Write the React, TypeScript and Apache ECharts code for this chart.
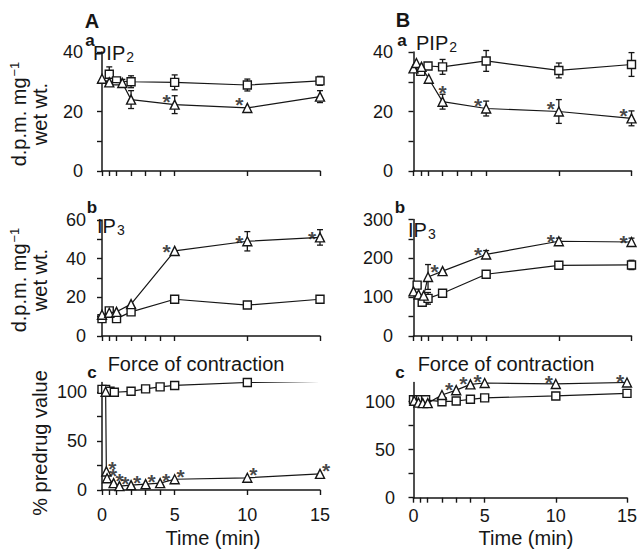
import React, { useEffect, useRef } from 'react';
import * as echarts from 'echarts';

const FONT = '"Liberation Sans", Arial, Helvetica, sans-serif';
const INK = '#161616';

// x axis (time, min)
const timeTicks = [0, 0.5, 1, 2, 3, 4, 5, 10, 15];
const timeLabels = [0, 5, 10, 15];

// ---- Panel A a : PIP2 ----
const aPip2Ctrl = [[0.5, 32.5], [1, 30.3], [2, 30], [5, 29.8], [10, 28.9], [15, 30.3]];
const aPip2CtrlErr = [2.5, 0, 2, 2.5, 2, 1.5];
const aPip2Drug = [[0, 31], [0.5, 29.8], [1.4, 29.6], [2, 24], [5, 22.3], [10, 21.2], [15, 25]];
const aPip2DrugErr = [0, 0, 1.2, 3, 3, 0, 2];
const aPip2Stars = [5, 10];
const aPip2YTicks = [0, 10, 20, 30, 40];
const aPip2YLabels = [0, 20, 40];

// ---- Panel A b : IP3 ----
const aIp3Ctrl = [[0, 9], [0.5, 13], [1, 9], [2, 12.5], [5, 19], [10, 16], [15, 19]];
const aIp3CtrlErr = [0, 0, 0, 0, 0, 0, 0];
const aIp3Drug = [[0, 11], [0.5, 12], [1, 12.5], [2, 16.5], [5, 44], [10, 49], [15, 51]];
const aIp3DrugErr = [0, 0, 0, 0, 0, 5, 4];
const aIp3Stars = [5, 10, 15];
const aIp3YTicks = [0, 10, 20, 30, 40, 50, 60];
const aIp3YLabels = [0, 20, 40, 60];

// ---- Panel A c : Force of contraction ----
const aForceCtrl = [[0, 103], [0.25, 103], [0.55, 101], [0.85, 100], [2, 101], [3, 103.5], [4, 105.5], [5, 107], [10, 110], [15, 111]];
const aForceDrug = [[0.25, 100.5], [0.3, 19], [0.35, 12], [0.8, 7], [1.2, 4], [2, 5], [3, 6], [4, 7], [5, 11], [10, 12.5], [15, 16.5]];
const aForceStars = [0.3, 0.35, 0.8, 1.2, 2, 3, 4, 5, 10, 15];
const forceYTicks = [0, 25, 50, 75, 100];
const forceYLabels = [0, 50, 100];

// ---- Panel B a : PIP2 ----
const bPip2Ctrl = [[0.5, 33.5], [1, 35.3], [2, 35], [5, 37], [10, 33.8], [15, 35.8]];
const bPip2CtrlErr = [0, 0, 2.5, 3.5, 2.5, 4];
const bPip2Drug = [[0, 34.5], [0.2, 36.3], [0.55, 35], [1.05, 31], [2, 23.3], [5, 21], [10, 20], [15, 17.7]];
const bPip2DrugErr = [0, 0, 0, 0, 2.5, 2.5, 4, 2.5];
const bPip2Stars = [2, 5, 10, 15];

// ---- Panel B b : IP3 ----
const bIp3Ctrl = [[0.25, 131], [0.6, 87], [1, 97], [2, 110], [5, 159], [10, 182], [15, 183]];
const bIp3CtrlErr = [0, 0, 15, 0, 0, 0, 12];
const bIp3Drug = [[0, 115], [0.35, 107], [0.7, 104], [1, 152], [2, 167], [5, 210], [10, 244], [15, 242]];
const bIp3DrugErr = [0, 0, 0, 32, 0, 10, 8, 10];
const bIp3Stars = [2, 5, 10, 15];
const bIp3YTicks = [0, 50, 100, 150, 200, 250, 300];
const bIp3YLabels = [0, 100, 200, 300];

// ---- Panel B c : Force of contraction ----
const bForceCtrl = [[0, 102], [0.25, 102], [0.5, 102], [0.85, 102], [2, 100], [3, 100.7], [4, 102.5], [5, 104], [10, 106], [15, 108.7]];
const bForceDrug = [[0.05, 101], [0.35, 99], [0.65, 98.5], [1, 98.5], [2, 107], [3, 112], [4, 118], [5, 119.5], [10, 118.5], [15, 120]];
const bForceStars = [3, 4, 5, 10, 15];

type Pt = number[];

interface Panel {
  left: number; top: number; width: number; height: number;
  yMax: number; yTicks: number[]; yLabels: number[];
  xLabels: boolean; xOffset: number; yOffset: number; labelMargin: number;
  ctrl: Pt[]; ctrlErr: number[]; drug: Pt[]; drugErr: number[];
  stars: number[]; starOffset: number[]; starOverrides?: Record<number, number[]>;
}

const panels: Panel[] = [
  { left: 102, top: 52, width: 218, height: 119, yMax: 40, yTicks: aPip2YTicks, yLabels: aPip2YLabels, xLabels: false, xOffset: 0, yOffset: 12, labelMargin: 7,
    ctrl: aPip2Ctrl, ctrlErr: aPip2CtrlErr, drug: aPip2Drug, drugErr: aPip2DrugErr, stars: aPip2Stars, starOffset: [-8, -3] },
  { left: 102, top: 220, width: 218, height: 116, yMax: 60, yTicks: aIp3YTicks, yLabels: aIp3YLabels, xLabels: false, xOffset: 0, yOffset: 9, labelMargin: 7,
    ctrl: aIp3Ctrl, ctrlErr: aIp3CtrlErr, drug: aIp3Drug, drugErr: aIp3DrugErr, stars: aIp3Stars, starOffset: [-8, 1] },
  { left: 102, top: 382.5, width: 218, height: 107.5, yMax: 110, yTicks: forceYTicks, yLabels: forceYLabels, xLabels: true, xOffset: 9, yOffset: 8, labelMargin: 7,
    ctrl: aForceCtrl, ctrlErr: [], drug: aForceDrug, drugErr: [], stars: aForceStars, starOffset: [6, -3] },
  { left: 413.5, top: 52, width: 218, height: 119, yMax: 40, yTicks: aPip2YTicks, yLabels: aPip2YLabels, xLabels: false, xOffset: 0, yOffset: 10.5, labelMargin: 10,
    ctrl: bPip2Ctrl, ctrlErr: bPip2CtrlErr, drug: bPip2Drug, drugErr: bPip2DrugErr, stars: bPip2Stars, starOffset: [-8, -3], starOverrides: { 2: [0, -9] } },
  { left: 413.5, top: 219.5, width: 218, height: 116.5, yMax: 300, yTicks: bIp3YTicks, yLabels: bIp3YLabels, xLabels: false, xOffset: 0, yOffset: 10.5, labelMargin: 10,
    ctrl: bIp3Ctrl, ctrlErr: bIp3CtrlErr, drug: bIp3Drug, drugErr: bIp3DrugErr, stars: bIp3Stars, starOffset: [-8, 0] },
  { left: 413.5, top: 382.5, width: 218, height: 115.2, yMax: 120, yTicks: forceYTicks, yLabels: forceYLabels, xLabels: true, xOffset: 2, yOffset: 10.5, labelMargin: 8,
    ctrl: bForceCtrl, ctrlErr: [], drug: bForceDrug, drugErr: [], stars: bForceStars, starOffset: [-7, -1] },
];

function errorData(pts: Pt[], errs: number[]) {
  const out: number[][] = [];
  pts.forEach((p, i) => { if (errs[i]) out.push([p[0], p[1], errs[i]]); });
  return out;
}

function buildOption() {
  const grid: any[] = [];
  const xAxis: any[] = [];
  const yAxis: any[] = [];
  const series: any[] = [];
  const axisLine = { lineStyle: { color: INK, width: 1.5 } };
  const axisLabelStyle = { color: INK, fontSize: 18, fontFamily: FONT };

  panels.forEach((p, i) => {
    grid.push({ left: p.left, top: p.top, width: p.width, height: p.height, containLabel: false });
    xAxis.push({
      gridIndex: i, type: 'value', min: 0, max: 15, offset: p.xOffset,
      axisLine, splitLine: { show: false },
      axisTick: { show: true, length: 5, customValues: timeTicks, lineStyle: { color: INK, width: 1.4 } },
      axisLabel: p.xLabels ? { show: true, customValues: timeLabels, margin: 7, ...axisLabelStyle } : { show: false },
    });
    yAxis.push({
      gridIndex: i, type: 'value', min: 0, max: p.yMax, offset: p.yOffset,
      axisLine: { show: true, ...axisLine }, splitLine: { show: false },
      axisTick: { show: true, length: 5, customValues: p.yTicks, lineStyle: { color: INK, width: 1.4 } },
      axisLabel: { show: true, customValues: p.yLabels, margin: p.labelMargin, ...axisLabelStyle },
    });

    const errs = [...errorData(p.ctrl, p.ctrlErr), ...errorData(p.drug, p.drugErr)];
    if (errs.length) {
      series.push({
        type: 'custom', xAxisIndex: i, yAxisIndex: i, z: 1, silent: true, clip: false,
        encode: { x: 0, y: 1 },
        data: errs,
        renderItem: (params: any, api: any) => {
          const x = api.value(0), y = api.value(1), e = api.value(2);
          const t = api.coord([x, y + e]);
          const b = api.coord([x, y - e]);
          const st = { stroke: INK, lineWidth: 1.3 };
          return {
            type: 'group',
            children: [
              { type: 'line', shape: { x1: t[0], y1: t[1], x2: b[0], y2: b[1] }, style: st },
              { type: 'line', shape: { x1: t[0] - 3, y1: t[1], x2: t[0] + 3, y2: t[1] }, style: st },
              { type: 'line', shape: { x1: b[0] - 3, y1: b[1], x2: b[0] + 3, y2: b[1] }, style: st },
            ],
          };
        },
      });
    }

    const lineCommon = {
      type: 'line', xAxisIndex: i, yAxisIndex: i, silent: true,
      lineStyle: { color: INK, width: 1.2 },
      itemStyle: { color: '#ffffff', borderColor: INK, borderWidth: 1.4 },
      showAllSymbol: true, z: 3, emphasis: { disabled: true },
    };
    series.push({ ...lineCommon, symbol: 'rect', symbolSize: 8, data: p.ctrl });
    series.push({ ...lineCommon, symbol: 'triangle', symbolSize: 9, data: p.drug, z: 4 });

    const starData = p.stars.map((t) => {
      const d = p.drug.filter((q) => q[0] === t);
      const pt = d[d.length - 1];
      const off = (p.starOverrides && p.starOverrides[t]) || p.starOffset;
      return { value: [pt[0], pt[1]], label: { offset: off } };
    });
    series.push({
      type: 'scatter', xAxisIndex: i, yAxisIndex: i, silent: true, z: 5,
      symbol: 'circle', symbolSize: 1, itemStyle: { color: 'rgba(0,0,0,0)' },
      label: { show: true, formatter: '*', position: 'inside', color: INK, fontSize: 21, fontWeight: 'bold', fontFamily: FONT },
      data: starData,
    });
  });

  const txt = (x: number, y: number, text: string, size: number, bold = false, align = 'left', extra: any = {}) => ({
    type: 'text', x, y, silent: true,
    style: { text, fill: INK, fontSize: size, fontWeight: bold ? 'bold' : 'normal', fontFamily: FONT, align, verticalAlign: 'middle', ...extra },
  });

  const subRich = {
    m: { fontSize: 20, fontFamily: FONT, fill: INK, lineHeight: 22 },
    s: { fontSize: 14, fontFamily: FONT, fill: INK, verticalAlign: 'bottom', lineHeight: 14, padding: [6, 0, 0, 1] },
  };
  const yRich = {
    t: { fontSize: 20, fontFamily: FONT, fill: INK, lineHeight: 21 },
    sup: { fontSize: 13, fontFamily: FONT, fill: INK, verticalAlign: 'top', lineHeight: 12, padding: [0, 0, 8, 1] },
  };

  const graphic: any[] = [
    txt(92, 21, 'A', 20, true, 'center'),
    txt(90, 40, 'a', 17, true, 'center'),
    txt(93, 53, '{m|PIP}{s|2}', 20, false, 'left', { rich: subRich }),
    txt(92, 207, 'b', 17, true, 'center'),
    txt(97, 226, '{m|IP}{s|3}', 20, false, 'left', { rich: subRich }),
    txt(92, 372, 'c', 17, true, 'center'),
    txt(196, 364, 'Force of contraction', 20, false, 'center'),
    txt(213, 538, 'Time (min)', 20, false, 'center'),

    txt(403, 20, 'B', 20, true, 'center'),
    txt(402, 40, 'a', 17, true, 'center'),
    txt(416, 43, '{m|PIP}{s|2}', 20, false, 'left', { rich: subRich }),
    txt(400, 207, 'b', 17, true, 'center'),
    txt(408, 230, '{m|IP}{s|3}', 20, false, 'left', { rich: subRich }),
    txt(400, 372, 'c', 17, true, 'center'),
    txt(506, 364, 'Force of contraction', 20, false, 'center'),
    txt(526, 538, 'Time (min)', 20, false, 'center'),

    { type: 'text', x: 29, y: 114, rotation: Math.PI / 2, silent: true,
      style: { text: '{t|d.p.m. mg}{sup|\u22121}\n{t|wet wt.}', rich: yRich, align: 'center', verticalAlign: 'middle', fill: INK, fontFamily: FONT } },
    { type: 'text', x: 29, y: 280, rotation: Math.PI / 2, silent: true,
      style: { text: '{t|d.p.m. mg}{sup|\u22121}\n{t|wet wt.}', rich: yRich, align: 'center', verticalAlign: 'middle', fill: INK, fontFamily: FONT } },
    { type: 'text', x: 40, y: 443, rotation: Math.PI / 2, silent: true,
      style: { text: '% predrug value', fontSize: 20, align: 'center', verticalAlign: 'middle', fill: INK, fontFamily: FONT } },
  ];

  return {
    animation: false,
    backgroundColor: '#ffffff',
    grid, xAxis, yAxis, series, graphic,
  };
}

export default function App() {
  const ref = useRef<HTMLDivElement>(null);
  useEffect(() => {
    if (!ref.current) return;
    const chart = echarts.init(ref.current, undefined, { renderer: 'svg' });
    chart.setOption(buildOption() as any);
    return () => chart.dispose();
  }, []);
  return <div ref={ref} style={{ position: 'absolute', left: 0, top: 0, width: 640, height: 550 }} />;
}
